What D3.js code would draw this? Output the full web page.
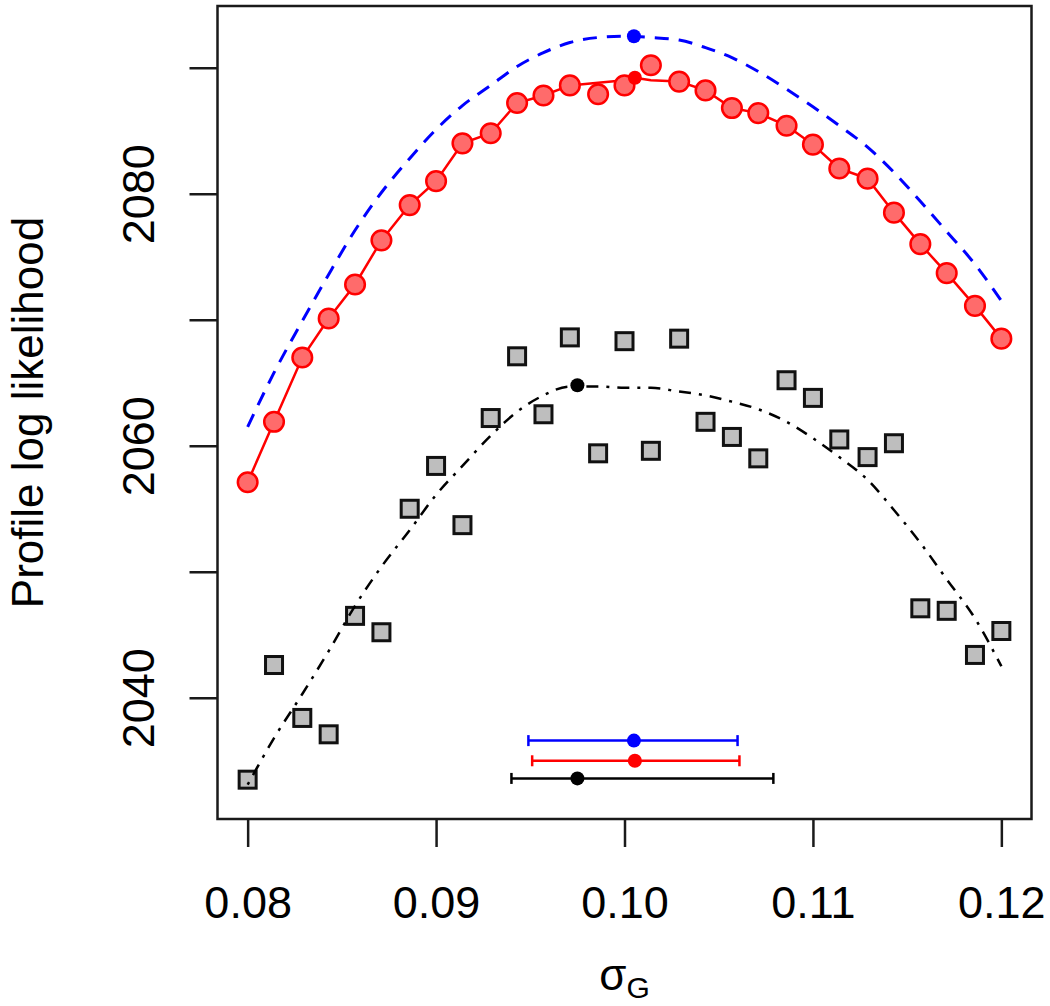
<!DOCTYPE html>
<html>
<head>
<meta charset="utf-8">
<script src="https://cdn.jsdelivr.net/npm/d3@7"></script>
<style>
  body { margin: 0; background: #fff; }
  svg { display: block; font-family: "Liberation Sans", Arial, sans-serif; }
</style>
</head>
<body>
<div id="vis"></div>
<script>
// sigma_G grid (29 profile points)
const sigma = [0.0800, 0.0814, 0.0829, 0.0843, 0.0857, 0.0871, 0.0886, 0.0900, 0.0914, 0.0929,
               0.0943, 0.0957, 0.0971, 0.0986, 0.1000, 0.1014, 0.1029, 0.1043, 0.1057, 0.1071,
               0.1086, 0.1100, 0.1114, 0.1129, 0.1143, 0.1157, 0.1171, 0.1186, 0.1200];

// red circles (profile points) and the red fitted line
const redPts = [2057.1, 2061.9, 2067.0, 2070.1, 2072.8, 2076.3, 2079.1, 2081.0, 2084.0, 2084.8,
                2087.2, 2087.8, 2088.6, 2087.9, 2088.6, 2090.2, 2088.9, 2088.2, 2086.8, 2086.4,
                2085.4, 2083.9, 2082.0, 2081.2, 2078.5, 2076.0, 2073.7, 2071.1, 2068.5];
const redFit = [2057.1, 2061.9, 2067.0, 2070.1, 2072.8, 2076.3, 2079.1, 2081.0, 2084.0, 2084.8,
                2087.2, 2087.8, 2088.6, 2088.8, 2089.0, 2089.0, 2088.9, 2088.2, 2086.8, 2086.4,
                2085.4, 2083.9, 2082.0, 2081.2, 2078.5, 2076.0, 2073.7, 2071.1, 2068.5];

// blue dashed smooth curve
const blueFit = [2061.5, 2065.8, 2069.9, 2073.6, 2077.1, 2080.1, 2082.8, 2085.1, 2087.0, 2088.6,
                 2090.1, 2091.2, 2092.0, 2092.4, 2092.5, 2092.4, 2092.2, 2091.6, 2090.8, 2089.7,
                 2088.3, 2086.9, 2085.4, 2083.7, 2081.7, 2079.4, 2077.0, 2074.4, 2071.5];

// grey squares (noisy profile) and black dot-dash smooth
const greyPts = [2033.5, 2042.6, 2038.4, 2037.1, 2046.5, 2045.2, 2055.0, 2058.4, 2053.7, 2062.2,
                 2067.1, 2062.5, 2068.6, 2059.4, 2068.3, 2059.6, 2068.5, 2061.9, 2060.7, 2059.0,
                 2065.2, 2063.8, 2060.5, 2059.1, 2060.2, 2047.1, 2046.9, 2043.4, 2045.3];
const blackFit = [2033.1, 2036.8, 2040.3, 2043.7, 2047.3, 2050.4, 2053.3, 2056.1, 2058.4, 2060.8,
                  2062.7, 2064.0, 2064.7, 2064.7, 2064.6, 2064.6, 2064.3, 2064.0, 2063.5, 2062.9,
                  2061.9, 2060.6, 2059.1, 2057.3, 2054.9, 2052.3, 2049.4, 2046.3, 2042.5];

// maxima and confidence intervals: blue, red, black
const peakColor = ["#0000ff", "#ff0000", "#000000"];
const peakSigma = [0.1005, 0.10055, 0.0975];
const peakLL = [2092.5, 2089.2, 2064.8];
const ciLo = [0.0949, 0.0951, 0.0940];
const ciHi = [0.1060, 0.1061, 0.1079];
const ciLevel = [2036.6, 2035.0, 2033.6];

const xTicks = [0.08, 0.09, 0.10, 0.11, 0.12];
const yTicks = [2040, 2050, 2060, 2070, 2080, 2090];
const yLabelled = [2040, 2060, 2080];

const width = 1050, height = 1006;
const box = { left: 217.5, right: 1031.5, top: 6, bottom: 819 };

const svg = d3.select("#vis").append("svg")
    .attr("width", width)
    .attr("height", height);

svg.append("rect").attr("width", width).attr("height", height).attr("fill", "#fff");

const x = d3.scaleLinear().domain([0.0784, 0.1216]).range([box.left, box.right]);
const y = d3.scaleLinear().domain([2030.3, 2094.9]).range([820, 6]);

// axes
const xAxis = svg.append("g")
    .attr("transform", `translate(0,${box.bottom})`)
    .call(d3.axisBottom(x).tickValues(xTicks).tickSize(28).tickPadding(39).tickFormat(d3.format(".2f")));
xAxis.select(".domain").remove();
xAxis.selectAll("line").attr("stroke", "#1a1a1a").attr("stroke-width", 2.5);
xAxis.selectAll("text").attr("font-size", 45).attr("fill", "#000")
    .attr("font-family", "'Liberation Sans', Arial, sans-serif");

const yAxis = svg.append("g")
    .attr("transform", `translate(${box.left},0)`)
    .call(d3.axisLeft(y).tickValues(yTicks).tickSize(28)
        .tickFormat(d => yLabelled.includes(d) ? d3.format("d")(d) : ""));
yAxis.select(".domain").remove();
yAxis.selectAll("line").attr("stroke", "#1a1a1a").attr("stroke-width", 2.5);
yAxis.selectAll("text")
    .attr("x", null).attr("dy", null)
    .attr("text-anchor", "middle")
    .attr("transform", "translate(-63.5,0) rotate(-90)")
    .attr("font-size", 45).attr("fill", "#000")
    .attr("font-family", "'Liberation Sans', Arial, sans-serif");

// titles
svg.append("text")
    .attr("transform", `translate(43,${(box.top + box.bottom) / 2}) rotate(-90)`)
    .attr("text-anchor", "middle")
    .attr("font-size", 44)
    .text("Profile log likelihood");

const xt = svg.append("text")
    .attr("x", (box.left + box.right) / 2)
    .attr("y", 990)
    .attr("text-anchor", "middle")
    .attr("font-size", 44);
xt.append("tspan").text("σ");
xt.append("tspan").attr("font-size", 30).attr("dy", 8).text("G");

const pts = (vals) => sigma.map((s, i) => [s, vals[i]]);

const smooth = d3.line().x(d => x(d[0])).y(d => y(d[1])).curve(d3.curveMonotoneX);
const straight = d3.line().x(d => x(d[0])).y(d => y(d[1]));

// blue dashed curve
svg.append("path")
    .attr("d", smooth(pts(blueFit)))
    .attr("fill", "none")
    .attr("stroke", "#0000ff")
    .attr("stroke-width", 3)
    .attr("stroke-dasharray", "14,10");

// red fit line (goes through its maximum)
const redLine = pts(redFit).concat([[peakSigma[1], peakLL[1]]]).sort((a, b) => a[0] - b[0]);
svg.append("path")
    .attr("d", straight(redLine))
    .attr("fill", "none")
    .attr("stroke", "#ff0000")
    .attr("stroke-width", 2.5);

svg.append("g").selectAll("circle")
    .data(pts(redPts))
    .join("circle")
    .attr("cx", d => x(d[0]))
    .attr("cy", d => y(d[1]))
    .attr("r", 9.8)
    .attr("fill", "#ff6b6b")
    .attr("stroke", "#ff0000")
    .attr("stroke-width", 2.5);

// grey squares
svg.append("g").selectAll("rect")
    .data(pts(greyPts))
    .join("rect")
    .attr("x", d => x(d[0]) - 8.5)
    .attr("y", d => y(d[1]) - 8.5)
    .attr("width", 17)
    .attr("height", 17)
    .attr("fill", "#bebebe")
    .attr("stroke", "#111")
    .attr("stroke-width", 3);

// black dot-dash curve
svg.append("path")
    .attr("d", smooth(pts(blackFit)))
    .attr("fill", "none")
    .attr("stroke", "#000")
    .attr("stroke-width", 2.5)
    .attr("stroke-dasharray", "3,8,12,8");

// maxima
svg.append("g").selectAll("circle")
    .data(peakColor)
    .join("circle")
    .attr("cx", (d, i) => x(peakSigma[i]))
    .attr("cy", (d, i) => y(peakLL[i]))
    .attr("r", 7)
    .attr("fill", d => d);

// confidence intervals
const ci = svg.append("g").selectAll("g")
    .data(peakColor)
    .join("g")
    .attr("stroke", d => d)
    .attr("fill", d => d)
    .attr("stroke-width", 2.5);
ci.append("line")
    .attr("x1", (d, i) => x(ciLo[i])).attr("x2", (d, i) => x(ciHi[i]))
    .attr("y1", (d, i) => y(ciLevel[i])).attr("y2", (d, i) => y(ciLevel[i]));
ci.append("line")
    .attr("x1", (d, i) => x(ciLo[i])).attr("x2", (d, i) => x(ciLo[i]))
    .attr("y1", (d, i) => y(ciLevel[i]) - 5.5).attr("y2", (d, i) => y(ciLevel[i]) + 5.5);
ci.append("line")
    .attr("x1", (d, i) => x(ciHi[i])).attr("x2", (d, i) => x(ciHi[i]))
    .attr("y1", (d, i) => y(ciLevel[i]) - 5.5).attr("y2", (d, i) => y(ciLevel[i]) + 5.5);
ci.append("circle")
    .attr("cx", (d, i) => x(peakSigma[i]))
    .attr("cy", (d, i) => y(ciLevel[i]))
    .attr("r", 7)
    .attr("stroke", "none");

// frame
svg.append("rect")
    .attr("x", box.left)
    .attr("y", box.top)
    .attr("width", box.right - box.left)
    .attr("height", box.bottom - box.top)
    .attr("fill", "none")
    .attr("stroke", "#1a1a1a")
    .attr("stroke-width", 2.5);
</script>
</body>
</html>
